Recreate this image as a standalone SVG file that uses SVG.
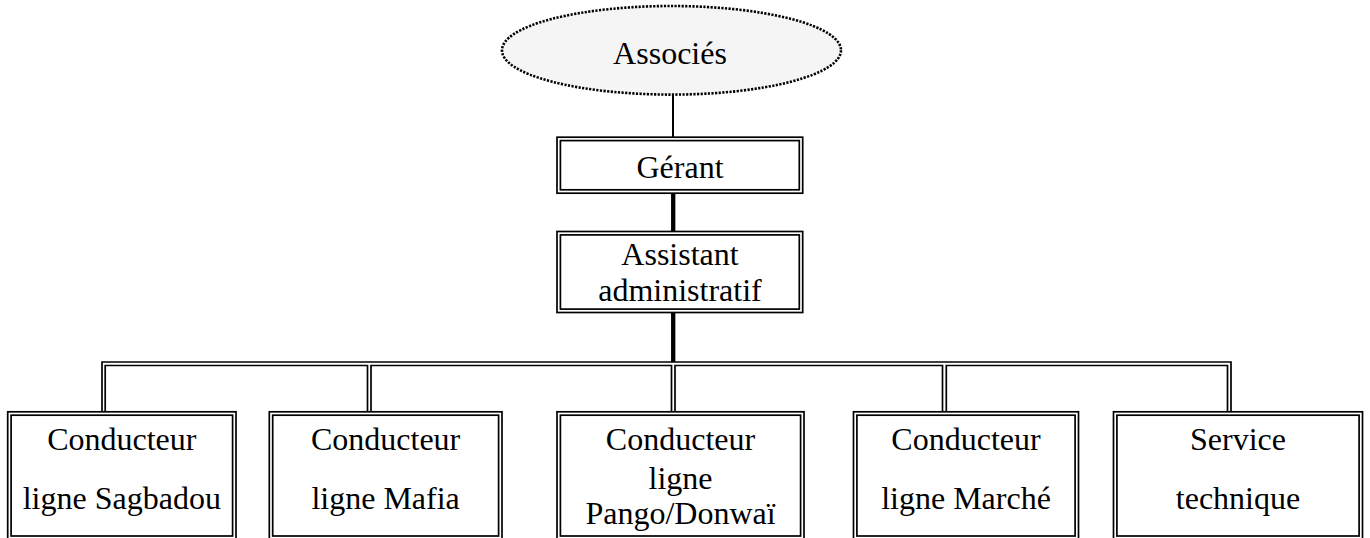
<svg xmlns="http://www.w3.org/2000/svg" width="1370" height="538" viewBox="0 0 1370 538">
<style>
.bg{fill:#ffffff}
.box{fill:#ffffff;stroke:#000;stroke-width:1.7}
.inner{fill:none;stroke:#000;stroke-width:1.7}
.ln{fill:none;stroke:#000;stroke-width:1.7}
.thick{fill:none;stroke:#000;stroke-width:4.3}
.thin{fill:none;stroke:#000;stroke-width:2}
.ell{fill:#f5f5f5;stroke:#000;stroke-width:2.6;stroke-dasharray:2.2 1.4}
text{font-family:"Liberation Serif","Times New Roman",serif;font-size:32px;fill:#000;text-anchor:middle}
</style>
<rect class="bg" x="0" y="0" width="1370" height="538"/>
<g id="connectors">
<line class="thin" x1="673" y1="94.5" x2="673" y2="137.2"/>
<line class="thick" x1="673.2" y1="193" x2="673.2" y2="231.5"/>
<line class="thick" x1="673.2" y1="312.5" x2="673.2" y2="362"/>
<path class="ln" d="M102,411.8 V362 H1231 V411.8"/>
<path class="ln" d="M105.2,411.8 V365.5 H367.5 V411.8"/>
<path class="ln" d="M371,411.8 V365.5 H671.5 V411.8"/>
<path class="ln" d="M675,411.8 V365.5 H942.5 V411.8"/>
<path class="ln" d="M946.3,411.8 V365.5 H1227.5 V411.8"/>
</g>
<g id="associes">
<ellipse class="ell" cx="671.5" cy="50.3" rx="169.5" ry="44.3"/>
<text x="670" y="64">Associés</text>
</g>
<g id="gerant">
<rect class="box" x="557" y="137.2" width="245.7" height="56"/>
<rect class="inner" x="560.4" y="140.6" width="238.9" height="49.2"/>
<text x="680" y="177.5">Gérant</text>
</g>
<g id="assistant">
<rect class="box" x="557" y="231.5" width="245.7" height="81"/>
<rect class="inner" x="560.4" y="234.9" width="238.9" height="74.2"/>
<text x="680" y="265">Assistant</text>
<text x="680" y="300.7">administratif</text>
</g>
<g id="sagbadou">
<rect class="box" x="7.7" y="411.8" width="228.3" height="127.6"/>
<rect class="inner" x="11.1" y="415.2" width="221.5" height="120.8"/>
<text x="121.8" y="450">Conducteur</text>
<text x="121.8" y="509">ligne Sagbadou</text>
</g>
<g id="mafia">
<rect class="box" x="269.3" y="411.8" width="232.7" height="127.6"/>
<rect class="inner" x="272.7" y="415.2" width="225.9" height="120.8"/>
<text x="385.6" y="450">Conducteur</text>
<text x="385.6" y="509">ligne Mafia</text>
</g>
<g id="pango">
<rect class="box" x="557" y="411.8" width="247" height="127.6"/>
<rect class="inner" x="560.4" y="415.2" width="240.2" height="120.8"/>
<text x="680.5" y="450">Conducteur</text>
<text x="680.5" y="489">ligne</text>
<text x="680.5" y="523.5">Pango/Donwaï</text>
</g>
<g id="marche">
<rect class="box" x="853.5" y="411.8" width="225" height="127.6"/>
<rect class="inner" x="856.9" y="415.2" width="218.2" height="120.8"/>
<text x="966" y="450">Conducteur</text>
<text x="966" y="509">ligne Marché</text>
</g>
<g id="technique">
<rect class="box" x="1113.5" y="411.8" width="249" height="127.6"/>
<rect class="inner" x="1116.9" y="415.2" width="242.2" height="120.8"/>
<text x="1238" y="450">Service</text>
<text x="1238" y="509">technique</text>
</g>
</svg>
